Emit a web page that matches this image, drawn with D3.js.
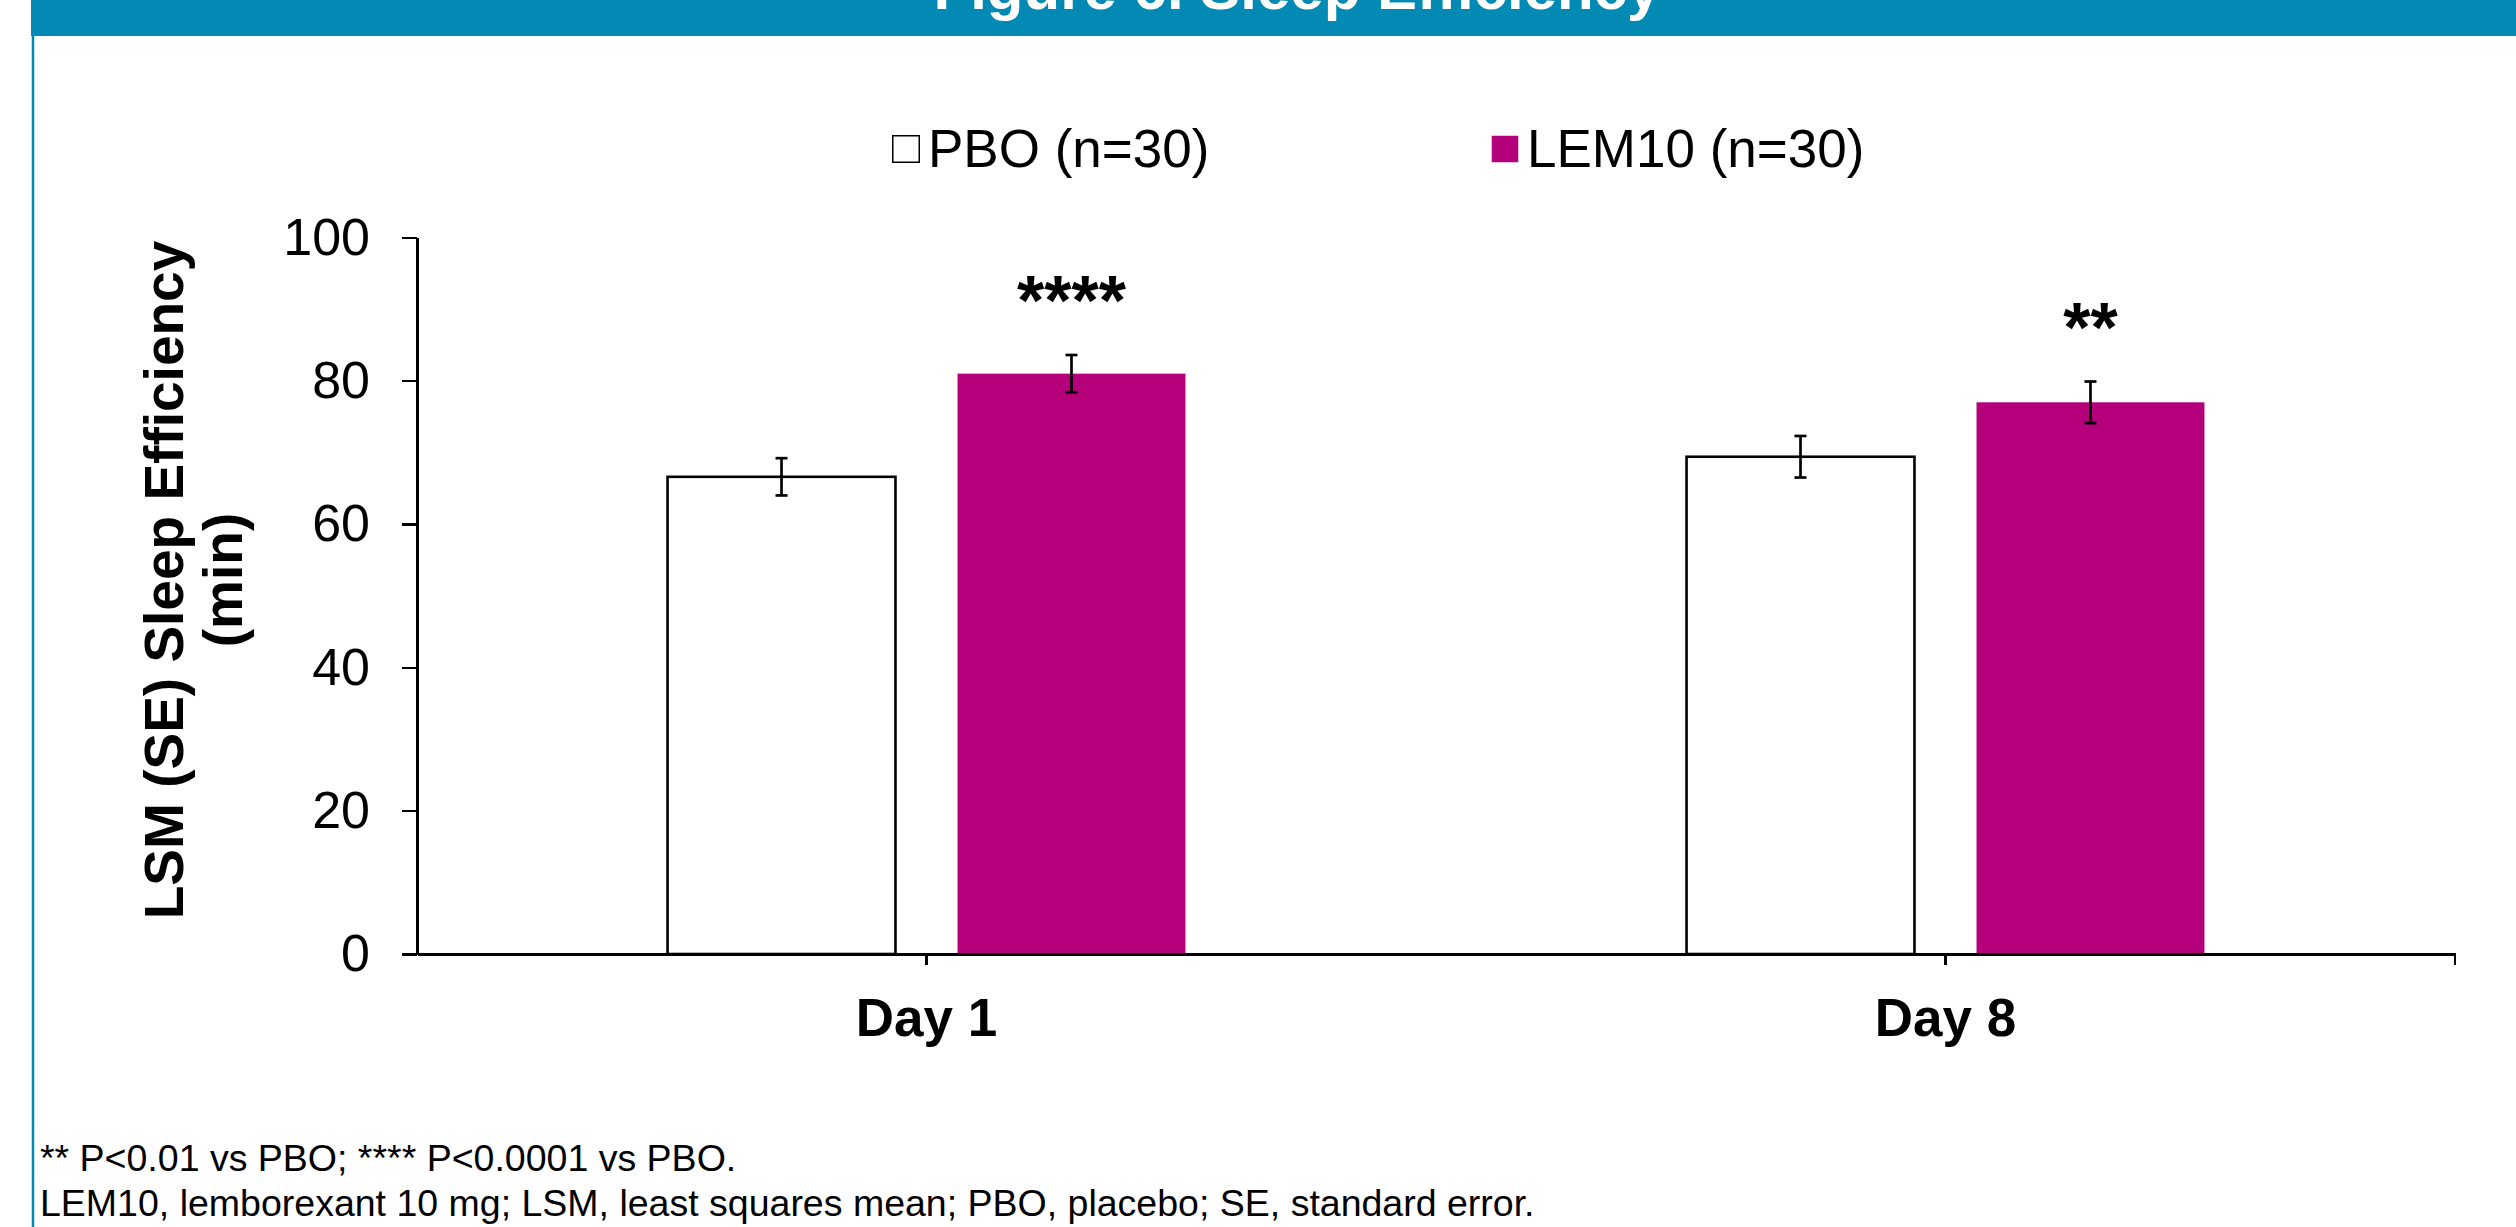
<!DOCTYPE html>
<meta charset="utf-8">
<title>Sleep Efficiency</title>
<style>

body {
  margin: 0;
  background: #fff;
}

text {
  font-family: "Liberation Sans", Arial, sans-serif;
  fill: #000;
}

.axis path,
.axis line {
  stroke: #000;
  shape-rendering: crispEdges;
}

</style>
<body>

<script src="https://d3js.org/d3.v7.min.js"></script>
<script>

// chart data
var days = ["Day 1", "Day 8"];
var groups = ["PBO", "LEM10"];
var legendLabels = ["PBO (n=30)", "LEM10 (n=30)"];
var pboMean = [66.6, 69.4];
var pboSE = [2.6, 2.9];
var lemMean = [81.0, 77.0];
var lemSE = [2.6, 2.9];
var stars = ["****", "**"];
var yTicks = [0, 20, 40, 60, 80, 100];

var colors = { PBO: "#fff", LEM10: "#b4007a" };

// page size
var width = 2516,
    height = 1227;

var svg = d3.select("body").append("svg")
    .attr("width", width)
    .attr("height", height);

// header band and left border
svg.append("rect")
    .attr("x", 31)
    .attr("y", 0)
    .attr("width", width - 31)
    .attr("height", 36)
    .style("fill", "#028ab5");

svg.append("line")
    .attr("x1", 33).attr("x2", 33)
    .attr("y1", 36).attr("y2", height)
    .style("stroke", "#028ab5")
    .style("stroke-width", 2.5);

// title sits mostly above the top edge, as in the source slide
svg.append("text")
    .attr("x", 1297)
    .attr("y", 9)
    .attr("text-anchor", "middle")
    .style("font-size", "60px")
    .style("font-weight", "bold")
    .style("fill", "#fff")
    .text("Figure 6. Sleep Efficiency");

// scales
var x0 = d3.scaleBand()
    .domain(days)
    .range([417, 2455]);

var x1 = d3.scaleBand()
    .domain(groups)
    .range([0, x0.bandwidth()])
    .paddingInner(0.214)
    .paddingOuter(0.864);

var y = d3.scaleLinear()
    .domain([0, 100])
    .range([954, 237.5]);

// rows for the bars
var rows = [];
days.forEach(function(d, i) {
  rows.push({ day: d, group: "PBO", mean: pboMean[i], se: pboSE[i] });
  rows.push({ day: d, group: "LEM10", mean: lemMean[i], se: lemSE[i], star: stars[i] });
});

function barX(d) { return x0(d.day) + x1(d.group); }
function barMid(d) { return barX(d) + x1.bandwidth() / 2; }

// y axis
svg.append("g")
    .attr("class", "axis")
    .attr("transform", "translate(417,0)")
    .call(d3.axisLeft(y)
      .tickValues(yTicks)
      .tickSize(15)
      .tickSizeOuter(0)
      .tickPadding(32))
    .call(function(g) {
      g.selectAll("path, line").style("stroke-width", 2.4);
      g.selectAll("text").style("font-size", "52px")
        .style("font-family", "\"Liberation Sans\", Arial, sans-serif");
    });

// bars
svg.append("g").selectAll("rect")
    .data(rows)
  .enter().append("rect")
    .attr("x", barX)
    .attr("y", function(d) { return y(d.mean); })
    .attr("width", x1.bandwidth())
    .attr("height", function(d) { return y(0) - y(d.mean); })
    .style("fill", function(d) { return colors[d.group]; })
    .style("stroke", function(d) { return d.group == "PBO" ? "#000" : "none"; })
    .style("stroke-width", 2.6);

// x axis
svg.append("g")
    .attr("class", "axis")
    .attr("transform", "translate(0," + y(0) + ")")
    .call(d3.axisBottom(x0)
      .tickSize(11)
      .tickSizeOuter(0)
      .tickPadding(33))
    .call(function(g) {
      g.selectAll("path, line").style("stroke-width", 2.4);
      g.selectAll("text").style("font-size", "53px")
        .style("font-weight", "bold")
        .style("font-family", "\"Liberation Sans\", Arial, sans-serif");
    })
  .append("line")
    .attr("x1", x0.range()[1]).attr("x2", x0.range()[1])
    .attr("y1", 0).attr("y2", 11)
    .style("stroke", "#000")
    .style("stroke-width", 2.4);

// error bars
var err = svg.append("g").selectAll("g")
    .data(rows)
  .enter().append("g")
    .style("stroke", "#000")
    .style("stroke-width", 2.7);

err.append("line")
    .attr("x1", barMid).attr("x2", barMid)
    .attr("y1", function(d) { return y(d.mean + d.se); })
    .attr("y2", function(d) { return y(d.mean - d.se); });

err.append("line")
    .attr("x1", function(d) { return barMid(d) - 6; })
    .attr("x2", function(d) { return barMid(d) + 6; })
    .attr("y1", function(d) { return y(d.mean + d.se); })
    .attr("y2", function(d) { return y(d.mean + d.se); });

err.append("line")
    .attr("x1", function(d) { return barMid(d) - 6; })
    .attr("x2", function(d) { return barMid(d) + 6; })
    .attr("y1", function(d) { return y(d.mean - d.se); })
    .attr("y2", function(d) { return y(d.mean - d.se); });

// significance stars
svg.append("g").selectAll("text")
    .data(rows.filter(function(d) { return d.star; }))
  .enter().append("text")
    .attr("x", barMid)
    .attr("y", function(d) { return y(d.mean + d.se) - 30; })
    .attr("text-anchor", "middle")
    .style("font-size", "70px")
    .style("font-weight", "bold")
    .text(function(d) { return d.star; });

// y axis title
var ytitle = svg.append("text")
    .attr("transform", "translate(0,580) rotate(-90)")
    .attr("text-anchor", "middle")
    .style("font-size", "55px")
    .style("font-weight", "bold");

ytitle.append("tspan")
    .attr("x", 0)
    .attr("y", 183)
    .text("LSM (SE) Sleep Efficiency");

ytitle.append("tspan")
    .attr("x", 0)
    .attr("y", 242)
    .text("(min)");

// legend
var legendX = [892, 1491];

var legend = svg.append("g").selectAll("g")
    .data(groups)
  .enter().append("g")
    .attr("transform", function(d, i) { return "translate(" + legendX[i] + ",0)"; });

legend.append("rect")
    .attr("x", 0.75)
    .attr("y", 135.75)
    .attr("width", 26.5)
    .attr("height", 26.5)
    .style("fill", function(d) { return colors[d]; })
    .style("stroke", function(d) { return d == "PBO" ? "#000" : "none"; })
    .style("stroke-width", 1.5);

legend.append("text")
    .attr("x", 36)
    .attr("y", 167)
    .style("font-size", "53px")
    .text(function(d, i) { return legendLabels[i]; });

// footnotes
var notes = [
  "** P<0.01 vs PBO; **** P<0.0001 vs PBO.",
  "LEM10, lemborexant 10 mg; LSM, least squares mean; PBO, placebo; SE, standard error."
];

svg.append("g").selectAll("text")
    .data(notes)
  .enter().append("text")
    .attr("x", 40)
    .attr("y", function(d, i) { return 1171 + i * 45; })
    .style("font-size", "37.5px")
    .text(function(d) { return d; });

</script>

</body>
